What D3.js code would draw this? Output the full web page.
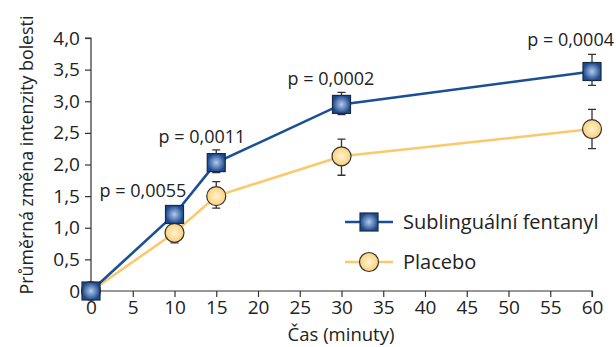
<!DOCTYPE html>
<html>
<head>
<meta charset="utf-8">
<script src="https://cdn.jsdelivr.net/npm/d3@7"></script>
<style>
  body { margin: 0; background: #fff; }
  svg { display: block; font-family: "Open Sans", "Noto Sans", sans-serif; }
</style>
</head>
<body>
<svg id="chart" width="616" height="347"></svg>
<script>
// data
const times = [0, 10, 15, 30, 60];
const fentanyl = [0, 1.21, 2.03, 2.95, 3.47];
const fentanylLow = [0, 1.12, 1.87, 2.79, 3.25];
const fentanylHigh = [0, 1.30, 2.23, 3.14, 3.74];
const placebo = [0, 0.92, 1.50, 2.13, 2.56];
const placeboLow = [0, 0.76, 1.31, 1.83, 2.25];
const placeboHigh = [0, 1.06, 1.73, 2.40, 2.87];
const pLabels = ["p = 0,0055", "p = 0,0011", "p = 0,0002", "p = 0,0004"];
const xTicks = d3.range(0, 61, 5);
const yTicks = [0, 0.5, 1, 1.5, 2, 2.5, 3, 3.5, 4];

const svg = d3.select("#chart");
const x = d3.scaleLinear().domain([0, 60]).range([91, 592]);
const y = d3.scaleLinear().domain([0, 4]).range([291, 38]);

const defs = svg.append("defs");
const blueGrad = defs.append("radialGradient").attr("id", "blueGrad");
blueGrad.append("stop").attr("offset", "0%").attr("stop-color", "#b3cbee");
blueGrad.append("stop").attr("offset", "100%").attr("stop-color", "#1d4a8e");
const yellowGrad = defs.append("radialGradient").attr("id", "yellowGrad");
yellowGrad.append("stop").attr("offset", "0%").attr("stop-color", "#fff3d2");
yellowGrad.append("stop").attr("offset", "100%").attr("stop-color", "#fcd07a");

const fmt = (v) => (v === 0 ? "0" : d3.format(".1f")(v).replace(".", ","));

const yAxis = svg.append("g")
  .attr("transform", `translate(${x(0)},0)`)
  .call(d3.axisLeft(y).tickValues(yTicks).tickFormat(fmt).tickSize(6).tickPadding(5));
const xAxis = svg.append("g")
  .attr("transform", `translate(0,${y(0)})`)
  .call(d3.axisBottom(x).tickValues(xTicks).tickSize(6).tickPadding(4));
[yAxis, xAxis].forEach((g) => {
  g.select(".domain").attr("stroke", "#333").attr("stroke-width", 1.2);
  g.selectAll(".tick line").attr("stroke", "#333").attr("stroke-width", 1.2);
  g.selectAll("text").attr("fill", "#222").attr("font-size", 19)
    .attr("font-family", "'Open Sans', 'Noto Sans', sans-serif");
});
yAxis.select(".domain").attr("d", `M-6,${y(4)}H0V${y(0)}`);
xAxis.select(".domain").attr("d", `M${x(0)},0H${x(60)}V6`);

svg.append("text")
  .attr("transform", `translate(33,155) rotate(-90)`)
  .attr("text-anchor", "middle")
  .attr("font-size", 17.8).attr("fill", "#222")
  .text("Průměrná změna intenzity bolesti");

svg.append("text")
  .attr("x", 341).attr("y", 341)
  .attr("text-anchor", "middle")
  .attr("font-size", 18.5).attr("fill", "#222")
  .text("Čas (minuty)");

const line = d3.line().x((d) => x(d[0])).y((d) => y(d[1]));

function drawSeries(values, low, high, color, kind) {
  svg.append("path")
    .datum(times.map((t, i) => [t, values[i]]))
    .attr("fill", "none").attr("stroke", color).attr("stroke-width", 2.6)
    .attr("d", line);
  const g = svg.append("g");
  times.forEach((t, i) => {
    if (high[i] === low[i]) return;
    const cx = x(t);
    g.append("path")
      .attr("d", `M${cx},${y(low[i])}V${y(high[i])}M${cx - 4},${y(low[i])}H${cx + 4}M${cx - 4},${y(high[i])}H${cx + 4}`)
      .attr("stroke", "#333").attr("stroke-width", 1.3).attr("fill", "none");
  });
  times.forEach((t, i) => marker(g, x(t), y(values[i]), kind));
}

function marker(g, cx, cy, kind) {
  if (kind === "square") {
    g.append("rect")
      .attr("x", cx - 9).attr("y", cy - 9).attr("width", 18).attr("height", 18)
      .attr("fill", "url(#blueGrad)").attr("stroke", "#1c2a40").attr("stroke-width", 1.2);
  } else {
    g.append("circle")
      .attr("cx", cx).attr("cy", cy).attr("r", 9.5)
      .attr("fill", "url(#yellowGrad)").attr("stroke", "#333").attr("stroke-width", 1.2);
  }
}

drawSeries(placebo, placeboLow, placeboHigh, "#fcc96a", "circle");
drawSeries(fentanyl, fentanylLow, fentanylHigh, "#1a4f98", "square");

// p-value labels, placed above the fentanyl points
const pPos = [[143, 197, "middle"], [202, 143, "middle"], [331, 85, "middle"], [614, 46, "end"]];
pLabels.forEach((txt, i) => {
  svg.append("text")
    .attr("x", pPos[i][0]).attr("y", pPos[i][1])
    .attr("text-anchor", pPos[i][2])
    .attr("font-size", 18).attr("fill", "#222")
    .text(txt);
});

// legend
const legend = [
  { name: "Sublinguální fentanyl", color: "#1a4f98", kind: "square", yy: 222 },
  { name: "Placebo", color: "#fcc96a", kind: "circle", yy: 262 }
];
legend.forEach((d) => {
  const lg = svg.append("g");
  lg.append("line").attr("x1", 345).attr("x2", 393).attr("y1", d.yy).attr("y2", d.yy)
    .attr("stroke", d.color).attr("stroke-width", 2.6);
  marker(lg, 369, d.yy, d.kind);
  lg.append("text").attr("x", 403).attr("y", d.yy + 7)
    .attr("font-size", 20).attr("fill", "#222").text(d.name);
});
</script>
</body>
</html>
